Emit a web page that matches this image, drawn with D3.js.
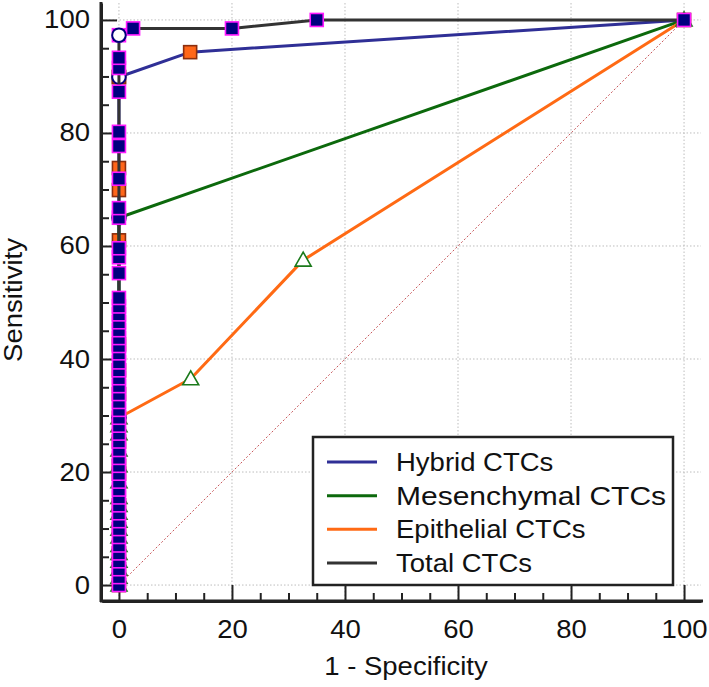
<!DOCTYPE html>
<html><head><meta charset="utf-8">
<script src="https://cdn.jsdelivr.net/npm/d3@7"></script>
<style>body{margin:0;background:#fff;} svg text{font-family:"Liberation Sans",Arial,sans-serif;}</style>
</head><body>
<svg id="c" width="709" height="687"></svg>
<script>
// ---- data ----
const seriesNames = ["Hybrid CTCs", "Mesenchymal CTCs", "Epithelial CTCs", "Total CTCs"];
const ticks = [0, 20, 40, 60, 80, 100];
const minorTicks = [5,10,15,25,30,35,45,50,55,65,70,75,85,90,95];

// Hybrid CTCs ROC points (1-specificity, sensitivity)
const hybridX = [0,0,0,0,0,0,0,0,0,0,0,0,0,0,0,0,0,12.6,100];
const hybridY = [0,2.8,5.6,9.9,14.1,19.7,21.1,25.4,29.6,33.8,38.0,42.6,61.0,69.9,73.8,89.9,89.9,94.3,100];
const hybridOpt = [0, 89.9];

// Mesenchymal CTCs
const mesX = [0, 0, 100];
const mesY = [0, 65.0, 100];
const mesOpt = [0, 65.0];

// Epithelial CTCs
const epiX = [0,0,0,0,0,0,0,0,0,0,0,0,0,0,0,0,0,0,12.7,32.6,100];
const epiY = [0,1.4,2.8,4.2,5.6,7.0,8.5,9.9,11.3,12.7,14.1,15.5,18.3,21.1,23.9,26.8,28.2,29.6,36.5,57.5,100];
const epiOpt = [0, 29.6];

// Total CTCs
const totalX = [0,0,0,0,0,0,0,0,0,0,0,0,0,0,0,0,0,0,0,0,0,0,0,0,0,0,0,0,0,0,0,0,0,0,0,0,0,0,0,0,0,0,0,0,0,0,0,0,0,2.5,20,35,100];
const totalY = [0,1.4,2.8,4.2,5.6,7.0,8.5,9.9,11.3,12.7,14.1,15.5,16.9,18.3,19.7,21.1,22.5,23.9,25.4,26.8,28.2,29.6,31.0,32.4,33.8,35.2,36.6,38.0,39.4,41.0,42.3,43.7,45.1,46.5,47.9,49.3,50.8,55.2,58.0,59.6,65.0,66.7,71.9,77.7,80.2,87.3,91.5,93.3,97.3,98.5,98.5,100,100];
const totalOpt = [0, 97.3];

// ---- styles ----
const colors = {hyb:"#2f2f96", mes:"#0c690c", epi:"#ff6a14", tot:"#333333"};

const svg = d3.select("#c");
const x = d3.scaleLinear().domain([-3, 103]).range([102, 701]);
const y = d3.scaleLinear().domain([-3, 103]).range([602, 3]);

// grid
const grid = svg.append("g");
ticks.forEach(t => {
  grid.append("line").attr("x1", x(t)).attr("x2", x(t)).attr("y1", y(103)).attr("y2", y(-3))
    .attr("stroke", "#bdbdbd").attr("stroke-width", 1).attr("stroke-dasharray", "1.5,2");
  grid.append("line").attr("y1", y(t)).attr("y2", y(t)).attr("x1", x(-3)).attr("x2", x(103))
    .attr("stroke", "#bdbdbd").attr("stroke-width", 1).attr("stroke-dasharray", "1.5,2");
});
// diagonal reference
svg.append("line").attr("x1", x(0)).attr("y1", y(0)).attr("x2", x(100)).attr("y2", y(100))
  .attr("stroke", "#c8585c").attr("stroke-width", 1).attr("stroke-dasharray", "2,2");

// axes
const fs = 25;
function styleAxis(g){ g.selectAll(".domain").attr("stroke","#222").attr("stroke-width",3);
  g.selectAll(".tick line").attr("stroke","#222").attr("stroke-width",2); }
const gxMinor = svg.append("g").attr("transform","translate(0,601)")
  .call(d3.axisBottom(x).tickValues(minorTicks).tickSize(-8).tickSizeOuter(0).tickFormat(""));
styleAxis(gxMinor);
const gx = svg.append("g").attr("transform","translate(0,601)")
  .call(d3.axisBottom(x).tickValues(ticks).tickSize(-16).tickSizeOuter(0).tickPadding(19));
styleAxis(gx);
gx.selectAll("text").attr("font-size", fs).attr("fill","#111");
gx.select(".domain").attr("d", `M${x(-3)},0H703`);
const gyMinor = svg.append("g").attr("transform","translate(101,0)")
  .call(d3.axisLeft(y).tickValues(minorTicks).tickSize(-8).tickSizeOuter(0).tickFormat(""));
styleAxis(gyMinor);
const gy = svg.append("g").attr("transform","translate(101,0)")
  .call(d3.axisLeft(y).tickValues(ticks).tickSize(-16).tickSizeOuter(0).tickPadding(11));
styleAxis(gy);
gy.selectAll("text").attr("font-size", fs).attr("fill","#111");
gy.select(".domain").attr("d", `M0,2V${y(-3)}`);

svg.append("text").attr("x", 406).attr("y", 675).attr("text-anchor","middle")
  .attr("font-size", fs).attr("fill","#111").text("1 - Specificity");
svg.append("text").attr("transform","translate(22,300) rotate(-90)").attr("text-anchor","middle")
  .attr("font-size", fs).attr("fill","#111").text("Sensitivity");

// series drawing
const lineGen = d3.line().x(d => x(d[0])).y(d => y(d[1]));
const zip = (a,b) => a.map((v,i) => [v,b[i]]);
const plot = svg.append("g");

function drawLine(pts, col){
  plot.append("path").datum(pts).attr("d", lineGen).attr("fill","none")
    .attr("stroke", col).attr("stroke-width", 3).attr("stroke-linejoin","round");
}
function drawSquares(pts, fill, stroke){
  plot.append("g").selectAll("rect").data(pts).join("rect")
    .attr("x", d => x(d[0]) - 6.5).attr("y", d => y(d[1]) - 6.5)
    .attr("width", 13).attr("height", 13).attr("fill", fill)
    .attr("stroke", stroke).attr("stroke-width", 1.6);
}
function drawTriangles(pts){
  plot.append("g").selectAll("path").data(pts).join("path")
    .attr("d", d => { const cx = x(d[0]), cy = y(d[1]);
      return `M${cx},${cy-8}L${cx+8},${cy+6}L${cx-8},${cy+6}Z`; })
    .attr("fill","#fff").attr("stroke","#1b7a1b").attr("stroke-width",1.6);
}
function drawCircle(p){
  plot.append("circle").attr("cx", x(p[0])).attr("cy", y(p[1])).attr("r", 6.8)
    .attr("fill","#fff").attr("stroke","#00007a").attr("stroke-width",2);
}

const hyb = zip(hybridX, hybridY);
drawLine(hyb, colors.hyb);
drawSquares(hyb, "#ff6619", "#8b2e0e");
drawCircle(hybridOpt);

drawLine(zip(mesX, mesY), colors.mes);
drawCircle(mesOpt);

const epi = zip(epiX, epiY);
drawLine(epi, colors.epi);
drawTriangles(epi);
drawCircle(epiOpt);

const tot = zip(totalX, totalY);
drawLine(tot, colors.tot);
drawSquares(tot, "#00007f", "#ff19ff");
drawCircle(totalOpt);

// legend
const lg = svg.append("g");
lg.append("rect").attr("x", 313).attr("y", 437).attr("width", 360).attr("height", 148)
  .attr("fill","#fff").attr("stroke","#222").attr("stroke-width",2.5);
const legCols = [colors.hyb, colors.mes, colors.epi, colors.tot];
const rowY = d3.scalePoint().domain(seriesNames).range([462, 563]);
seriesNames.forEach((n,i) => {
  lg.append("line").attr("x1", 327).attr("x2", 377).attr("y1", rowY(n)).attr("y2", rowY(n))
    .attr("stroke", legCols[i]).attr("stroke-width", 3);
  lg.append("text").attr("class", i === 1 ? "wide" : null).attr("x", 396).attr("y", rowY(n)).attr("dy","0.36em")
    .attr("font-size", fs).attr("fill","#111").text(n);
});

// the source text is slightly wider than Liberation Sans: stretch glyphs horizontally
svg.selectAll("text").each(function(){
  const w = this.getComputedTextLength();
  const k = this.getAttribute("class") === "wide" ? 1.2 : 1.1;
  if (w > 0) d3.select(this).attr("textLength", w * k).attr("lengthAdjust", "spacingAndGlyphs");
});
</script>
</body></html>
